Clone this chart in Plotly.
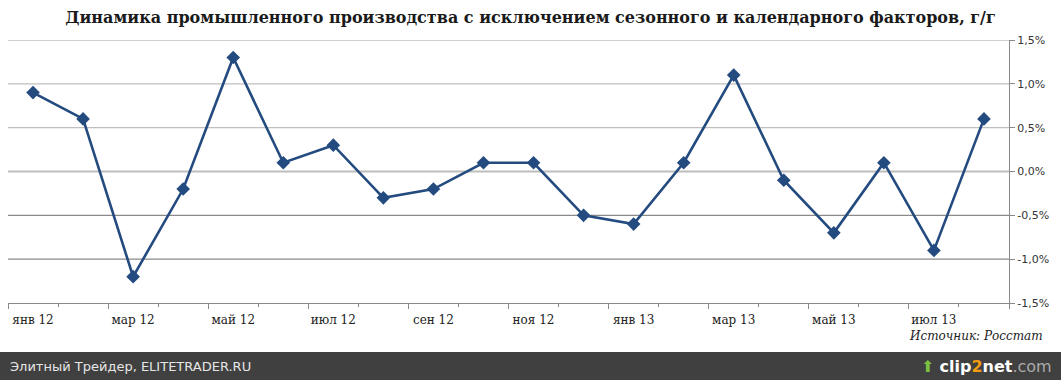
import plotly.graph_objects as go

months = ["янв 12", "фев 12", "мар 12", "апр 12", "май 12", "июн 12", "июл 12", "авг 12",
          "сен 12", "окт 12", "ноя 12", "дек 12", "янв 13", "фев 13", "мар 13", "апр 13",
          "май 13", "июн 13", "июл 13", "авг 13"]
values = [0.9, 0.6, -1.2, -0.2, 1.3, 0.1, 0.3, -0.3, -0.2, 0.1, 0.1, -0.5, -0.6, 0.1, 1.1,
          -0.1, -0.7, 0.1, -0.9, 0.6]
y_ticks = [-1.5, -1.0, -0.5, 0.0, 0.5, 1.0, 1.5]
y_ticktext = ["-1,5%", "-1,0%", "-0,5%", "0,0%", "0,5%", "1,0%", "1,5%"]
title = "Динамика промышленного производства с исключением сезонного и календарного факторов, г/г"
source = "Источник: Росстат"
footer = "Элитный Трейдер, ELITETRADER.RU"

n = len(months)
xs = list(range(n))
label_idx = list(range(0, n, 2))

fig = go.Figure()
fig.add_trace(go.Scatter(
    x=xs, y=values, mode="lines+markers",
    line=dict(color="#244b7f", width=2.6),
    marker=dict(symbol="diamond", size=10.5, color="#244b7f"),
    showlegend=False, hoverinfo="skip"))
fig.add_trace(go.Scatter(x=xs, y=values, xaxis="x2", mode="markers",
                         marker=dict(opacity=0), showlegend=False, hoverinfo="skip"))

shapes = []
for v in y_ticks:
    if v == y_ticks[0]:
        continue
    if v > 0:
        col, w = "#bfbfbf", 1.3
    elif v == 0:
        col, w = "#bdbdbd", 2.2
    else:
        col, w = "#8a8a8a", 1.3
    shapes.append(dict(type="line", xref="paper", x0=0, x1=1, yref="y", y0=v, y1=v,
                       line=dict(color=col, width=w), layer="below"))
shapes.append(dict(type="rect", xref="paper", yref="paper", x0=-0.05, x1=1.1, y0=-0.36, y1=-0.186,
                   fillcolor="#404040", line=dict(width=0), layer="above"))

fig.update_layout(
    width=1061, height=380,
    margin=dict(l=8, r=52, t=40, b=77),
    paper_bgcolor="white", plot_bgcolor="white",
    title=dict(text="<b>" + title + "</b>", x=0.5, xanchor="center", y=0.955, yanchor="middle",
               font=dict(family="DejaVu Serif", size=16, color="#1a1a1a")),
    xaxis=dict(range=[-0.5, n - 0.5], showgrid=False, zeroline=False,
               showline=True, linecolor="#8a8a8a", linewidth=1.3,
               tickmode="array", tickvals=[i - 0.5 for i in range(0, n + 1, 2)],
               ticktext=["" for _ in range(0, n + 1, 2)],
               ticks="outside", ticklen=5, tickcolor="#8a8a8a", tickwidth=1,
               minor=dict(tickmode="array", tickvals=[i - 0.5 for i in range(1, n, 2)],
                          ticks="outside", ticklen=3, tickcolor="#8a8a8a", showgrid=False)),
    xaxis2=dict(range=[-0.5, n - 0.5], overlaying="x", side="bottom", anchor="y",
                showgrid=False, zeroline=False, showline=False, ticks="",
                ticklabelstandoff=8,
                tickmode="array", tickvals=label_idx, ticktext=[months[i] for i in label_idx],
                tickfont=dict(family="DejaVu Serif", size=12, color="#222222")),
    yaxis=dict(range=[-1.5, 1.5], side="right", showgrid=False, zeroline=False,
               showline=True, linecolor="#8a8a8a", linewidth=1.3,
               tickmode="array", tickvals=y_ticks, ticktext=y_ticktext,
               ticks="outside", ticklen=5, tickcolor="#8a8a8a",
               tickfont=dict(family="DejaVu Sans", size=11, color="#333333")),
    shapes=shapes,
    annotations=[
        dict(text="<i>" + source + "</i>", xref="paper", yref="paper", x=1.036, y=-0.125,
             xanchor="right", yanchor="middle", showarrow=False,
             font=dict(family="DejaVu Serif", size=12, color="#222222")),
        dict(text=footer, xref="paper", yref="paper", x=0.0, y=-0.24,
             xanchor="left", yanchor="middle", showarrow=False,
             font=dict(family="DejaVu Sans", size=13, color="#e6e6e6")),
        dict(text="<span style='color:#7dc142'>⬆</span> <b>clip<span style='color:#f39c12'>2</span>net</b><span style='color:#aaaaaa'>.com</span>",
             xref="paper", yref="paper", x=1.045, y=-0.24, xanchor="right", yanchor="middle",
             showarrow=False, font=dict(family="DejaVu Sans", size=16, color="white")),
    ],
)

fig.write_html("out.html", config={"displayModeBar": False},
               post_script="document.body.style.margin='0';document.body.style.overflow='hidden';")
